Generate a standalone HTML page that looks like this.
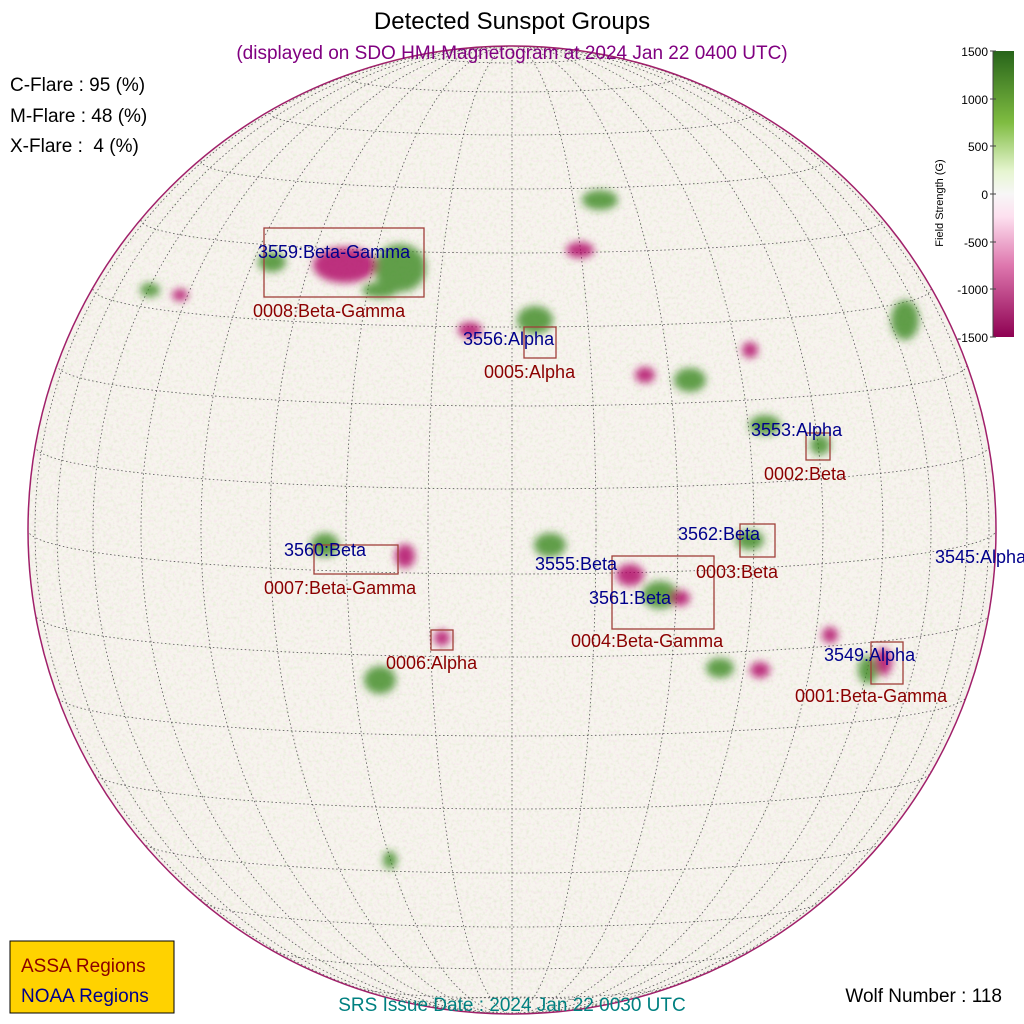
<!DOCTYPE html>
<html><head><meta charset="utf-8"><style>
html,body{margin:0;padding:0;background:#fff;}
svg{display:block;font-family:"Liberation Sans",sans-serif;}
</style></head><body>
<svg width="1024" height="1024" viewBox="0 0 1024 1024" xmlns="http://www.w3.org/2000/svg">
<defs>
<clipPath id="disk"><circle cx="512" cy="530" r="484"/></clipPath>
<linearGradient id="cb" x1="0" y1="0" x2="0" y2="1">
<stop offset="0" stop-color="#27641a"/>
<stop offset="0.25" stop-color="#7fbc41"/>
<stop offset="0.42" stop-color="#e6f5d0"/>
<stop offset="0.5" stop-color="#f7f7f7"/>
<stop offset="0.58" stop-color="#fde0ef"/>
<stop offset="0.75" stop-color="#de77ae"/>
<stop offset="1" stop-color="#8e0152"/>
</linearGradient>
<filter id="tex" x="0" y="0" width="100%" height="100%">
<feTurbulence type="fractalNoise" baseFrequency="0.35" numOctaves="2" seed="3"/>
<feColorMatrix type="matrix" values="0 0 0 0 0.9  0 0 0 0 0.55  0 0 0 0 0.8  0 0 0 -2.5 1.3"/>
</filter>
<filter id="tex2" x="0" y="0" width="100%" height="100%">
<feTurbulence type="fractalNoise" baseFrequency="0.3" numOctaves="2" seed="11"/>
<feColorMatrix type="matrix" values="0 0 0 0 0.55  0 0 0 0 0.8  0 0 0 0 0.4  0 0 0 -2.5 1.3"/>
</filter>
<filter id="bl"><feGaussianBlur stdDeviation="4"/></filter>
</defs>
<circle cx="512" cy="530" r="484" fill="#f7f4ee"/>
<g clip-path="url(#disk)">
<rect x="0" y="0" width="1024" height="1024" filter="url(#tex)" opacity="0.3"/>
<rect x="0" y="0" width="1024" height="1024" filter="url(#tex2)" opacity="0.3"/>
<g fill="none" stroke="#555" stroke-width="0.8" stroke-dasharray="1.5,2.5">
<ellipse cx="512" cy="530" rx="84" ry="484"/>
<ellipse cx="512" cy="530" rx="166" ry="484"/>
<ellipse cx="512" cy="530" rx="242" ry="484"/>
<ellipse cx="512" cy="530" rx="311" ry="484"/>
<ellipse cx="512" cy="530" rx="371" ry="484"/>
<ellipse cx="512" cy="530" rx="419" ry="484"/>
<ellipse cx="512" cy="530" rx="455" ry="484"/>
<ellipse cx="512" cy="530" rx="477" ry="484"/>
<line x1="512" y1="40" x2="512" y2="1020"/>
<path d="M28,530 A484,44 0 0 0 996,530"/>
<path d="M35,446 A477,43 0 0 0 989,446"/>
<path d="M57,365 A455,41 0 0 0 967,365"/>
<path d="M93,289 A419,38 0 0 0 931,289"/>
<path d="M141,220 A371,33 0 0 0 883,220"/>
<path d="M201,161 A311,28 0 0 0 823,161"/>
<path d="M270,113 A242,22 0 0 0 754,113"/>
<path d="M346,77 A166,15 0 0 0 678,77"/>
<path d="M428,55 A84,8 0 0 0 596,55"/>
<path d="M35,614 A477,43 0 0 0 989,614"/>
<path d="M57,695 A455,41 0 0 0 967,695"/>
<path d="M93,771 A419,38 0 0 0 931,771"/>
<path d="M141,840 A371,33 0 0 0 883,840"/>
<path d="M201,899 A311,28 0 0 0 823,899"/>
<path d="M270,947 A242,22 0 0 0 754,947"/>
<path d="M346,983 A166,15 0 0 0 678,983"/>
<ellipse cx="512" cy="1005" rx="84" ry="8"/>
</g>
<g filter="url(#bl)">
<g fill="#3d8a22" opacity="0.8">
<ellipse cx="400" cy="268" rx="26" ry="24"/><ellipse cx="272" cy="262" rx="14" ry="10"/>
<ellipse cx="380" cy="290" rx="18" ry="8"/>
<ellipse cx="535" cy="320" rx="18" ry="14"/>
<ellipse cx="765" cy="425" rx="16" ry="10"/><ellipse cx="820" cy="445" rx="10" ry="10"/>
<ellipse cx="750" cy="540" rx="14" ry="10"/>
<ellipse cx="325" cy="545" rx="14" ry="12"/>
<ellipse cx="660" cy="595" rx="18" ry="14"/>
<ellipse cx="550" cy="545" rx="16" ry="12"/>
<ellipse cx="720" cy="668" rx="14" ry="10"/>
<ellipse cx="380" cy="680" rx="16" ry="14"/>
<ellipse cx="868" cy="670" rx="10" ry="14"/>
<ellipse cx="905" cy="320" rx="14" ry="20"/>
<ellipse cx="690" cy="380" rx="16" ry="12"/>
<ellipse cx="600" cy="200" rx="18" ry="10"/>
<ellipse cx="150" cy="290" rx="10" ry="7"/>
<ellipse cx="390" cy="860" rx="7" ry="9"/>
</g>
<g fill="#b00062" opacity="0.8">
<ellipse cx="345" cy="265" rx="32" ry="18"/>
<ellipse cx="630" cy="575" rx="14" ry="11"/>
<ellipse cx="680" cy="598" rx="10" ry="8"/>
<ellipse cx="405" cy="556" rx="10" ry="12"/>
<ellipse cx="442" cy="638" rx="8" ry="8"/>
<ellipse cx="883" cy="662" rx="9" ry="14"/>
<ellipse cx="645" cy="375" rx="10" ry="8"/>
<ellipse cx="470" cy="330" rx="12" ry="8"/>
<ellipse cx="750" cy="350" rx="8" ry="8"/>
<ellipse cx="830" cy="635" rx="8" ry="8"/>
<ellipse cx="180" cy="295" rx="8" ry="6"/>
<ellipse cx="760" cy="670" rx="10" ry="8"/>
<ellipse cx="580" cy="250" rx="14" ry="8"/>
</g>
</g>
</g>
<circle cx="512" cy="530" r="484" fill="none" stroke="#a0206a" stroke-width="1.5"/>
<g fill="none" stroke="#a0403a" stroke-width="1.3">
<rect x="264" y="228" width="160" height="69"/>
<rect x="524" y="327" width="32" height="31"/>
<rect x="806" y="433" width="24" height="27"/>
<rect x="740" y="524" width="35" height="33"/>
<rect x="314" y="545" width="84" height="29"/>
<rect x="612" y="556" width="102" height="73"/>
<rect x="431" y="630" width="22" height="20"/>
<rect x="871" y="642" width="32" height="42"/>
</g>
<g font-size="18" fill="#00008b">
<text x="258" y="258">3559:Beta-Gamma</text>
<text x="463" y="345">3556:Alpha</text>
<text x="751" y="436">3553:Alpha</text>
<text x="678" y="540">3562:Beta</text>
<text x="935" y="563">3545:Alpha</text>
<text x="284" y="556">3560:Beta</text>
<text x="535" y="570">3555:Beta</text>
<text x="589" y="604">3561:Beta</text>
<text x="824" y="661">3549:Alpha</text>
</g>
<g font-size="18" fill="#8b0000">
<text x="253" y="317">0008:Beta-Gamma</text>
<text x="484" y="378">0005:Alpha</text>
<text x="764" y="480">0002:Beta</text>
<text x="696" y="578">0003:Beta</text>
<text x="264" y="594">0007:Beta-Gamma</text>
<text x="571" y="647">0004:Beta-Gamma</text>
<text x="386" y="669">0006:Alpha</text>
<text x="795" y="702">0001:Beta-Gamma</text>
</g>
<text x="512" y="29" font-size="24" text-anchor="middle" fill="#000">Detected Sunspot Groups</text>
<text x="512" y="59" font-size="19" text-anchor="middle" fill="#800080">(displayed on SDO HMI Magnetogram at 2024 Jan 22 0400 UTC)</text>
<g font-size="19" fill="#000">
<text x="10" y="91">C-Flare : 95 (%)</text>
<text x="10" y="122">M-Flare : 48 (%)</text>
<text x="10" y="152">X-Flare :&#160;&#160;4 (%)</text>
<text x="1002" y="1002" text-anchor="end">Wolf Number : 118</text>
</g>
<text x="512" y="1011" font-size="19" text-anchor="middle" fill="#008080">SRS Issue Date : 2024 Jan 22 0030 UTC</text>
<rect x="10" y="941" width="164" height="72" fill="#ffd200" stroke="#000" stroke-width="1"/>
<text x="21" y="972" font-size="19" fill="#8b0000">ASSA Regions</text>
<text x="21" y="1002" font-size="19" fill="#00008b">NOAA Regions</text>
<rect x="993" y="51" width="21" height="286" fill="url(#cb)"/>
<line x1="993" y1="51" x2="993" y2="337" stroke="#444" stroke-width="1"/>
<g stroke="#444" stroke-width="1">
<line x1="990" y1="51" x2="996" y2="51"/><line x1="990" y1="99" x2="996" y2="99"/><line x1="990" y1="146" x2="996" y2="146"/><line x1="990" y1="194" x2="996" y2="194"/><line x1="990" y1="242" x2="996" y2="242"/><line x1="990" y1="289" x2="996" y2="289"/><line x1="990" y1="337" x2="996" y2="337"/>
</g>
<g font-size="12" fill="#000" text-anchor="end">
<text x="988" y="56">1500</text>
<text x="988" y="104">1000</text>
<text x="988" y="151">500</text>
<text x="988" y="199">0</text>
<text x="988" y="247">-500</text>
<text x="988" y="294">-1000</text>
<text x="988" y="342">-1500</text>
</g>
<text transform="translate(943,203) rotate(-90)" font-size="11" text-anchor="middle" fill="#000">Field Strength (G)</text>
</svg>
</body></html>
